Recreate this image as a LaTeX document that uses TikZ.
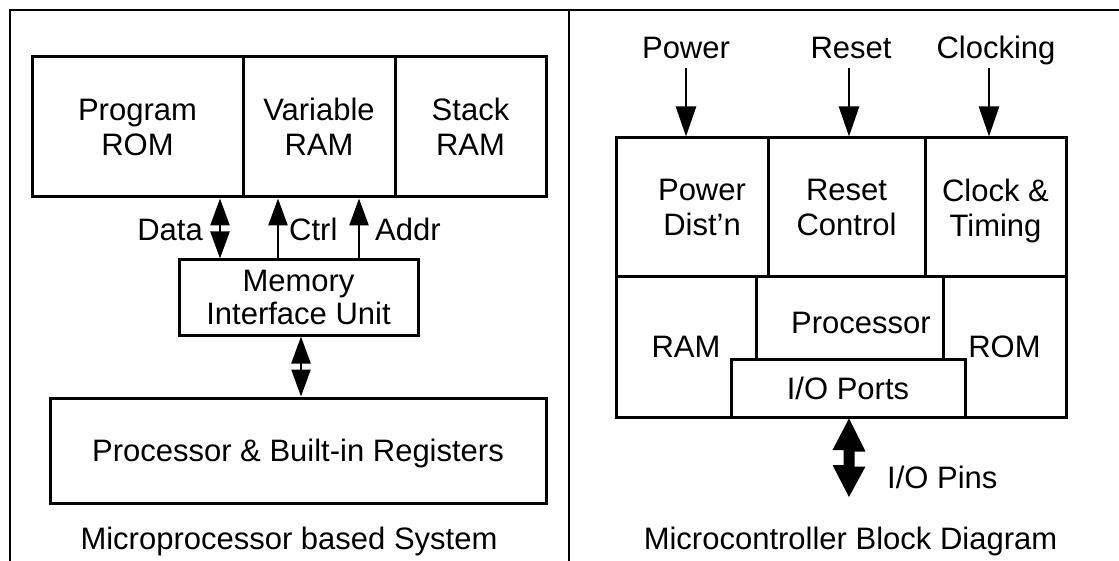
\documentclass[tikz,border=0pt]{standalone}
\usepackage{fontspec}
\setmainfont{Liberation Sans}
\usetikzlibrary{arrows.meta}

\newcommand\txtsize{\fontsize{31}{35}\selectfont}
\newcommand\txtsizetight{\fontsize{31}{33}\selectfont}

\begin{document}
\begin{tikzpicture}[x=1pt,y=-1pt,
  blk/.style 2 args={draw, line width=3pt, inner sep=0pt, align=center, text depth=0pt,
                     font=\txtsize, minimum width=#1pt, minimum height=#2pt},
  lbl/.style={inner sep=0pt, text height=22pt, text depth=0pt, font=\txtsize},
  txt/.style={inner sep=0pt, align=center, text depth=0pt, font=\txtsize},
  tipS/.tip={Triangle[length=27pt,width=19pt]},
  tipF/.tip={Triangle[length=30pt,width=20pt]},
  sig/.style={line width=2.5pt, -tipS},
  bus/.style={line width=2.5pt, tipS-tipS},
  feed/.style={line width=2.5pt, -tipF},
]
\useasboundingbox (0,0) rectangle (1119,561);
\fill[white] (0,0) rectangle (1119,561);

% frame and divider
\draw[line width=2pt] (9.5,561) -- (9.5,10.5) -- (1119,10.5);
\draw[line width=2pt] (569,10.5) -- (569,561);

% ---------- microprocessor based system ----------
\node[blk={211}{140}] (prom) at (137.5,127) {Program\\ROM};
\node[blk={152}{140}] (vram) at (319,127)   {Variable\\RAM};
\node[blk={151}{140}] (sram) at (470.5,127) {Stack\\RAM};
\node[blk={239}{75}, font=\txtsizetight] (memif) at (298.5,297.5) {Memory\\Interface Unit};
\node[blk={496}{105}] (cpu) at (298,450.5) {Processor \& Built-in Registers};

\coordinate (dx) at (220,0);
\coordinate (cx) at (278,0);
\coordinate (ax) at (359,0);
\coordinate (mx) at (301,0);
\draw[bus] (memif.north -| dx) -- (prom.south -| dx);
\draw[sig] (memif.north -| cx) -- (vram.south -| cx);
\draw[sig] (memif.north -| ax) -- (vram.south -| ax);
\draw[bus] (memif.south -| mx) -- (cpu.north -| mx);

\node[lbl, anchor=east] (datal) at (203,230) {Data};
\node[lbl, anchor=west] (ctrll) at (289,230) {Ctrl};
\node[lbl, anchor=west] (addrl) at (375,230) {Addr};

\node[lbl] (cap1) at (289,538) {Microprocessor based System};

% ---------- microcontroller block diagram ----------
\node[blk={152}{139}] (pwr) at (692,207.5) {};
\node[txt] (pwrt) at (702,207) {Power\\Dist’n};
\node[blk={157}{139}] (rst) at (846.5,207.5) {Reset\\Control};
\node[blk={141}{139}] (clk) at (995.5,207.5) {Clock \&\\Timing};

\node[blk={140}{140}] (ram) at (686,347)    {RAM};
\node[blk={187}{140}] (proc) at (849.5,347) {};
\node[blk={123}{140}] (rom) at (1004.5,347) {ROM};
\node[txt] (proct) at (861,323) {Processor};
\node[blk={234}{58}, fill=white] (io) at (848,388) {I/O Ports};

\node[lbl] (pwrl) at (686,48) {Power};
\node[lbl] (rstl) at (851,48) {Reset};
\node[lbl] (clkl) at (996,48) {Clocking};

\coordinate (pwrin) at (686,68);
\coordinate (rstin) at (849,68);
\coordinate (clkin) at (989,68);
\draw[feed] (pwrin) -- (pwrin |- pwr.north);
\draw[feed] (rstin) -- (rstin |- rst.north);
\draw[feed] (clkin) -- (clkin |- clk.north);

% wide two-way arrow to the pins
\coordinate (pins) at (849,497);
\fill (io.south -| pins) -- ++(16.5,33) -- ++(-11,0) -- ++(0,15) -- ++(11,0)
      -- (pins) -- ++(-16.5,-32) -- ++(11,0) -- ++(0,-15) -- ++(-11,0) -- cycle;
\node[lbl, anchor=west] (pinsl) at (887,477) {I/O Pins};

\node[lbl] (cap2) at (850.5,538) {Microcontroller Block Diagram};
\end{tikzpicture}
\end{document}
